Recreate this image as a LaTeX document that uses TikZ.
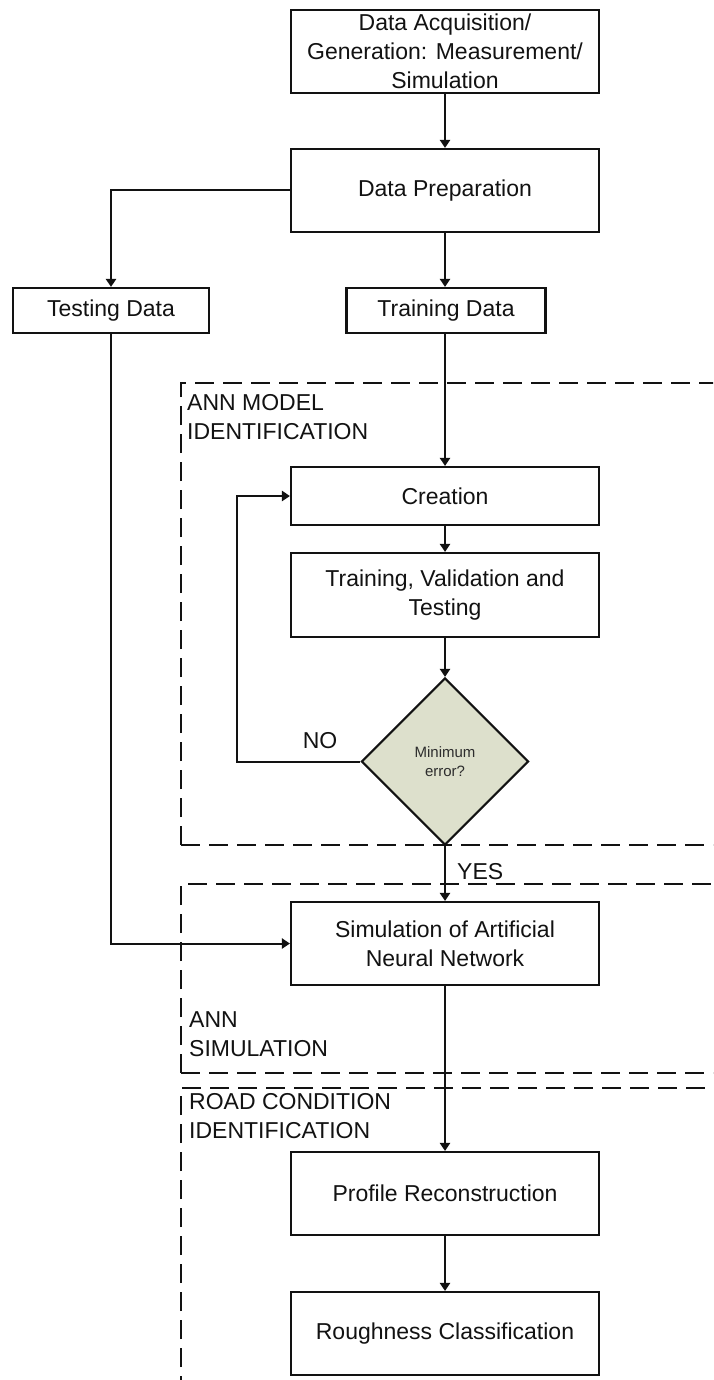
\documentclass[tikz,border=0pt]{standalone}
\usepackage{fontspec}
\setmainfont{Liberation Sans}
\usetikzlibrary{shapes.geometric,arrows.meta}
\definecolor{ink}{RGB}{18,18,18}
\definecolor{decfill}{RGB}{221,224,204}
\definecolor{smallink}{RGB}{45,45,45}
\begin{document}
\begin{tikzpicture}[x=1pt,y=-1pt,
  every node/.style={font=\fontsize{23}{29}\selectfont, text=ink, inner sep=0pt},
  proc/.style={draw=ink, fill=white, line width=2.1pt, minimum width=308pt, align=center},
  arr/.style={draw=ink, line width=2pt, -{Triangle[length=8pt,width=10pt]}},
  region/.style={draw=ink, line width=2.4pt, dash pattern=on 19pt off 9pt},
  tag/.style={align=left, anchor=west}]
\useasboundingbox (0,0) rectangle (713,1380);
\clip (0,0) rectangle (713,1380);
\fill[white] (0,0) rectangle (713,1380);

% dashed stage regions
\draw[region] (181,845) -- (181,383) -- (740,383);
\draw[region] (181,845) -- (740,845);
\draw[region] (181,1073) -- (181,884) -- (740,884);
\draw[region] (181,1073) -- (740,1073);
\draw[region] (181,1395) -- (181,1088) -- (740,1088);

% stage labels
\node[tag] (lblmodel) at (187,417.5) {ANN MODEL\\IDENTIFICATION};
\node[tag] (lblsim) at (189,1034) {ANN\\SIMULATION};
\node[tag] (lblroad) at (189,1116.5) {ROAD CONDITION\\IDENTIFICATION};

% process steps
\node[proc, minimum height=83pt] (acq) at (445,51.5) {Data Acquisition/\\Generation: Measurement/\\Simulation};
\node[proc, minimum height=83pt] (prep) at (445,190.5) {Data Preparation};
\node[proc, minimum width=196pt, minimum height=45pt] (test) at (111,310.5) {Testing Data};
\node[proc, minimum width=199pt, minimum height=45pt] (train) at (446,310.5) {Training Data};
\node[proc, minimum height=58pt] (create) at (445,496) {Creation};
\node[proc, minimum height=84pt] (tvt) at (445,595) {Training, Validation and\\Testing};
\node[diamond, draw=ink, fill=decfill, line width=2.1pt, aspect=1,
      minimum width=167pt, minimum height=167pt, align=center,
      font=\fontsize{15}{19}\selectfont, text=smallink] (dec) at (445,761.5) {Minimum\\error?};
\node[proc, minimum height=83pt] (sim) at (445,943.5) {Simulation of Artificial\\Neural Network};
\node[proc, minimum height=83pt] (prof) at (445,1193.5) {Profile Reconstruction};
\node[proc, minimum height=83pt] (rough) at (445,1333.5) {Roughness Classification};

% decision labels
\node (no) at (320,741) {NO};
\node[anchor=west] (yes) at (457,872) {YES};

% connectors
\coordinate (loopx) at (237,0);
\draw[arr] (acq) -- (prep);
\draw[arr] (prep.south) -- (prep.south |- train.north);
\draw[arr] (prep.west) -| (test.north);
\draw[arr] (prep.south |- train.south) -- (create.north);
\draw[arr] (create) -- (tvt);
\draw[arr] (tvt) -- (dec);
\draw[arr] (dec.west) -- (dec.west -| loopx) |- (create.west);
\draw[arr] (dec.south) -- (sim.north);
\draw[arr] (test.south) |- (sim.west);
\draw[arr] (sim) -- (prof);
\draw[arr] (prof) -- (rough);
\end{tikzpicture}
\end{document}
